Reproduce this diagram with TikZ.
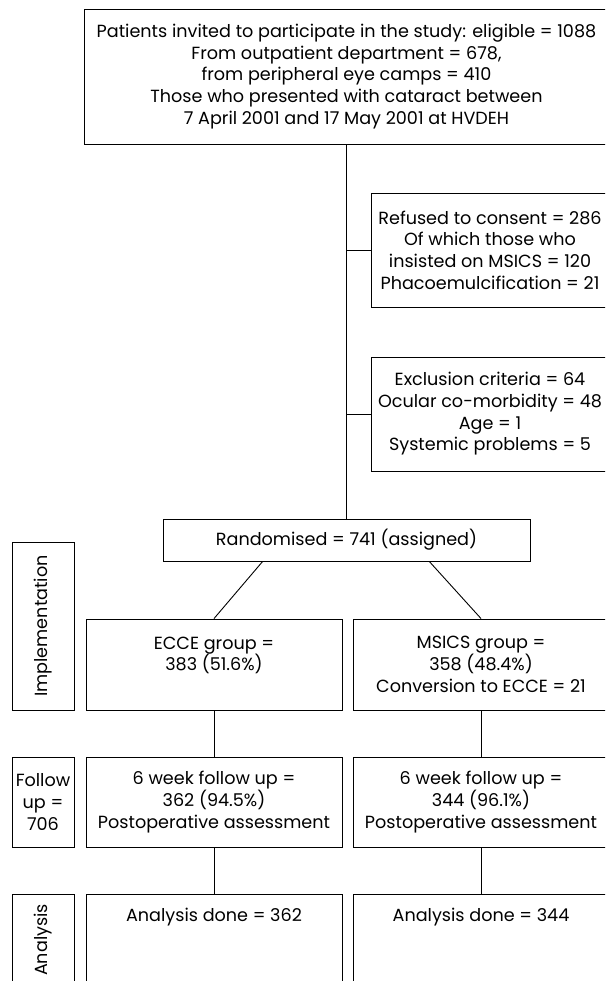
\documentclass[tikz,border=0pt]{standalone}
\usepackage{fontspec}
\setmainfont{Poppins}
\usetikzlibrary{calc}
\newcommand\diagfont{\fontsize{17.6}{21.7}\selectfont}
\begin{document}
\begin{tikzpicture}[x=1pt,y=-1pt,
  box/.style={draw, line width=0.9pt, align=center, inner sep=0pt, font=\diagfont},
  conn/.style={line width=0.9pt}]
\useasboundingbox (0,0) rectangle (605,981);
\clip (0,0) rectangle (605,981);
% main flow
\node[box, minimum width=524pt, minimum height=135pt] (invite) at (346.5,76.5)
  {Patients invited to participate in the study: eligible = 1088\\From outpatient department = 678,\\from peripheral eye camps = 410\\Those who presented with cataract between\\7 April 2001 and 17 May 2001 at HVDEH};
\node[box, minimum width=238pt, minimum height=114pt] (refused) at (490,250)
  {Refused to consent = 286\\Of which those who\\insisted on MSICS = 120\\Phacoemulcification = 21};
\node[box, minimum width=238pt, minimum height=114pt] (excl) at (490,414)
  {Exclusion criteria = 64\\Ocular co-morbidity = 48\\Age = 1\\Systemic problems = 5};
\node[box, minimum width=367pt, minimum height=42pt] (rand) at (346.5,540)
  {Randomised = 741 (assigned)};
\node[box, minimum width=256pt, minimum height=91pt] (ecce) at (214,664.5)
  {ECCE group =\\383 (51.6\%)\\\mbox{}};
\node[box, minimum width=256pt, minimum height=91pt] (msics) at (481,664.5)
  {MSICS group =\\358 (48.4\%)\\Conversion to ECCE = 21};
\node[box, minimum width=256pt, minimum height=90pt] (fu1) at (214,802)
  {6 week follow up =\\362 (94.5\%)\\Postoperative assessment};
\node[box, minimum width=256pt, minimum height=90pt] (fu2) at (481,802)
  {6 week follow up =\\344 (96.1\%)\\Postoperative assessment};
\node[box, anchor=north, minimum width=256pt, text height=27pt, text depth=80pt] (an1) at (214,894)
  {Analysis done = 362};
\node[box, anchor=north, minimum width=256pt, text height=27pt, text depth=80pt] (an2) at (481,894)
  {Analysis done = 344};
% stage labels
\node[box, rotate=90, minimum width=168pt, minimum height=62pt] (impl) at (43,626) {Implementation};
\node[box, minimum width=62pt, minimum height=90pt] (follow) at (43,802) {Follow\\up =\\706};
\node[box, rotate=90, minimum width=92pt, minimum height=62pt] (analysis) at (43,940) {Analysis};
% connectors
\draw[conn] (invite.south) -- (rand.north);
\draw[conn] (invite.south |- refused.west) -- (refused.west);
\draw[conn] (invite.south |- excl.west) -- (excl.west);
\draw[conn] ($(rand.south west)!0.272!(rand.south east)$) -- (ecce.north);
\draw[conn] ($(rand.south west)!0.725!(rand.south east)$) -- (msics.north);
\draw[conn] (ecce.south) -- (fu1.north);
\draw[conn] (msics.south) -- (fu2.north);
\draw[conn] (fu1.south) -- (an1.north);
\draw[conn] (fu2.south) -- (an2.north);
\end{tikzpicture}
\end{document}
